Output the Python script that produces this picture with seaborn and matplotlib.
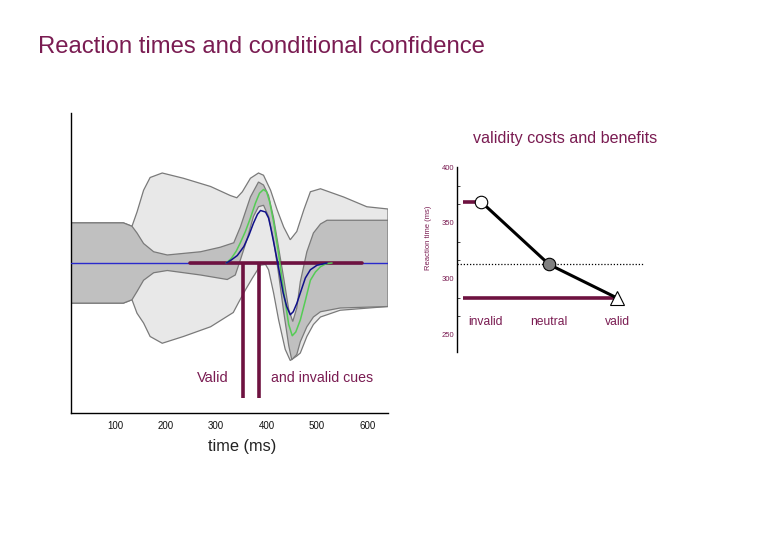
import numpy as np
import pandas as pd
import matplotlib
matplotlib.use("Agg")
import matplotlib.pyplot as plt
from matplotlib.ticker import AutoMinorLocator
import seaborn as sns

# ---------------- data ----------------
# left panel (time in ms, arbitrary amplitude units)
light_upper_t = [12, 116, 133, 143, 156, 169, 193, 235, 289, 328, 341, 352, 368, 384, 394, 408, 421, 434, 447, 460, 474, 487, 507, 553, 599, 641]
light_upper_v = [0.535, 0.535, 0.49, 0.68, 0.97, 1.14, 1.2, 1.13, 1.02, 0.9, 0.87, 0.95, 1.13, 1.2, 1.17, 0.97, 0.71, 0.48, 0.31, 0.42, 0.71, 0.95, 0.99, 0.88, 0.75, 0.72]
light_lower_t = [12, 116, 133, 143, 156, 169, 193, 235, 289, 334, 345, 358, 372, 388, 398, 404, 414, 424, 437, 447, 460, 467, 480, 493, 507, 546, 641]
light_lower_v = [-0.535, -0.535, -0.49, -0.67, -0.8, -0.98, -1.07, -0.98, -0.85, -0.66, -0.52, -0.36, -0.2, -0.03, -0.02, -0.09, -0.4, -0.76, -1.15, -1.3, -1.24, -1.2, -0.98, -0.82, -0.72, -0.63, -0.58]

dark_upper_t = [12, 116, 133, 143, 156, 176, 203, 269, 308, 335, 348, 358, 368, 384, 394, 404, 414, 424, 434, 444, 452, 460, 467, 480, 493, 507, 520, 641]
dark_upper_v = [0.535, 0.535, 0.49, 0.40, 0.26, 0.15, 0.107, 0.15, 0.21, 0.27, 0.48, 0.68, 0.88, 1.08, 1.04, 0.9, 0.6, 0.2, -0.2, -0.62, -0.78, -0.6, -0.25, 0.15, 0.4, 0.52, 0.57, 0.57]
dark_lower_t = [12, 116, 133, 143, 156, 176, 203, 269, 322, 338, 348, 361, 374, 384, 394, 404, 414, 424, 434, 444, 450, 460, 467, 480, 493, 507, 546, 641]
dark_lower_v = [-0.535, -0.535, -0.49, -0.38, -0.23, -0.13, -0.10, -0.16, -0.22, -0.16, 0.04, 0.31, 0.62, 0.75, 0.77, 0.62, 0.3, -0.15, -0.65, -1.1, -1.29, -1.22, -1.05, -0.85, -0.72, -0.65, -0.6, -0.58]

green_t = [320, 330, 340, 348, 358, 368, 378, 386, 394, 400, 406, 414, 424, 434, 444, 451, 458, 467, 477, 487, 497, 507, 518, 530]
green_v = [0, 0.06, 0.16, 0.27, 0.42, 0.6, 0.8, 0.93, 0.98, 0.95, 0.82, 0.55, 0.12, -0.38, -0.82, -0.97, -0.92, -0.76, -0.5, -0.23, -0.12, -0.05, -0.01, 0]

blue_t = [320, 330, 342, 355, 365, 374, 382, 388, 398, 404, 408, 414, 421, 427, 433, 440, 447, 453, 460, 467, 477, 487, 500, 520]
blue_v = [0, 0.04, 0.1, 0.22, 0.37, 0.53, 0.65, 0.7, 0.68, 0.6, 0.48, 0.28, 0.04, -0.18, -0.4, -0.58, -0.69, -0.65, -0.54, -0.4, -0.2, -0.09, -0.03, 0]

baseline_t = [12, 641]
baseline_v = [0, 0]

cue_bar_t = [249, 589]          # horizontal maroon bar at baseline
cue_times = [353, 386]          # vertical maroon cue markers
cue_depth = -1.8
xticks_main = [100, 200, 300, 400, 500, 600]

# right panel
conditions = ["invalid", "neutral", "valid"]
rt_values = [369, 313, 283]
yticks_rt = [250, 300, 350, 400]

MAROON = "#6e1240"
TEXTC = "#7a1c52"

# ---------------- figure ----------------
sns.set_theme(style="white")
plt.rcParams["font.family"] = ["Liberation Sans", "DejaVu Sans"]

fig = plt.figure(figsize=(7.8, 5.4), dpi=100)
fig.patch.set_facecolor("white")

ax = fig.add_axes([71/780, 1-413/540, 317/780, 300/540])
ax.set_facecolor("white")

# light envelope
lx = light_upper_t + light_lower_t[::-1]
ly = light_upper_v + light_lower_v[::-1]
ax.fill(lx, ly, facecolor="#e8e8e8", edgecolor="#7a7a7a", linewidth=0.9, zorder=1)
# dark band
dx = dark_upper_t + dark_lower_t[::-1]
dy = dark_upper_v + dark_lower_v[::-1]
ax.fill(dx, dy, facecolor="#c0c0c0", edgecolor="#7a7a7a", linewidth=0.9, zorder=2)

sns.lineplot(x=baseline_t, y=baseline_v, ax=ax, color="#2a2acc", linewidth=1.0, zorder=3)
sns.lineplot(x=cue_bar_t, y=[0, 0], ax=ax, color=MAROON, linewidth=2.6, zorder=4)
sns.lineplot(x=green_t, y=green_v, ax=ax, color="#55cc55", linewidth=1.1, zorder=5, sort=False)
sns.lineplot(x=blue_t, y=blue_v, ax=ax, color="#10108a", linewidth=1.1, zorder=6, sort=False)
for ct in cue_times:
    ax.plot([ct, ct], [0, cue_depth], color=MAROON, linewidth=2.6, solid_capstyle="butt", zorder=7)

ax.text(294, -1.53, "Valid", color=TEXTC, fontsize=10.5, ha="center", va="center")
ax.text(510, -1.53, "and invalid cues", color=TEXTC, fontsize=10.2, ha="center", va="center")

ax.set_xlim(12, 641)
ax.set_ylim(-2, 2)
ax.set_xticks(xticks_main)
ax.set_xticklabels([str(v) for v in xticks_main], fontsize=7, color="#111111")
ax.set_yticks([-1, 1])
ax.set_yticklabels([])
ax.tick_params(axis="x", direction="in", length=3, width=0.8, pad=6, colors="#111111")
ax.tick_params(axis="y", direction="out", length=3, width=0.8)
for s in ["top", "right"]:
    ax.spines[s].set_visible(False)
for s in ["left", "bottom"]:
    ax.spines[s].set_color("black")
    ax.spines[s].set_linewidth(1.0)
ax.set_xlabel("")
ax.set_ylabel("")

fig.text(242/780, 1-447/540, "time (ms)", fontsize=11.8, ha="center", va="center", color="#222222")
fig.text(38/780, 1-47/540, "Reaction times and conditional confidence", fontsize=17.2,
         ha="left", va="center", color=TEXTC)

# ---------------- inset ----------------
ax2 = fig.add_axes([457/780, 1-352/540, 188/780, 185/540])
ax2.set_facecolor("none")
xpos = [0, 1, 2]
ax2.set_xlim(-0.353, 2.41)
ax2.set_ylim(234.8, 400)

ax2.plot([-0.353, 2.41], [rt_values[1], rt_values[1]], color="black", linestyle=(0, (1, 1.5)),
         linewidth=0.9, zorder=1)
ax2.plot([-0.26, 0], [rt_values[0], rt_values[0]], color=MAROON, linewidth=2.6, zorder=2,
         solid_capstyle="butt")
ax2.plot([-0.26, 2], [rt_values[2], rt_values[2]], color=MAROON, linewidth=2.6, zorder=2,
         solid_capstyle="butt")
sns.lineplot(x=xpos, y=rt_values, ax=ax2, color="black", linewidth=2.2, zorder=3)
ax2.plot(xpos[0], rt_values[0], marker="o", markersize=9, markerfacecolor="white",
         markeredgecolor="black", markeredgewidth=0.8, zorder=4)
ax2.plot(xpos[1], rt_values[1], marker="o", markersize=9, markerfacecolor="#808080",
         markeredgecolor="black", markeredgewidth=0.8, zorder=4)
ax2.plot(xpos[2], rt_values[2], marker="^", markersize=10, markerfacecolor="white",
         markeredgecolor="black", markeredgewidth=0.8, zorder=4)

label_x = [0.07, 1.0, 2.0]
for lx_, name in zip(label_x, conditions):
    ax2.text(lx_, 261.6, name, color=TEXTC, fontsize=8.7, ha="center", va="center")

ax2.set_yticks(yticks_rt)
ax2.set_yticklabels([str(v) for v in yticks_rt], fontsize=5.5, color=TEXTC)
ax2.yaxis.set_minor_locator(AutoMinorLocator(3))
ax2.tick_params(axis="y", which="major", direction="in", length=4, width=0.8, pad=2)
ax2.tick_params(axis="y", which="minor", direction="in", length=2, width=0.6, left=True)
ax2.set_xticks([])
for s in ["top", "right", "bottom"]:
    ax2.spines[s].set_visible(False)
ax2.spines["left"].set_color("black")
ax2.spines["left"].set_linewidth(1.0)
ax2.set_xlabel("")
ax2.set_ylabel("")

fig.text(428/780, 1-238/540, "Reaction time (ms)", fontsize=5.5, rotation=90,
         ha="center", va="center", color=TEXTC)
fig.text(565.5/780, 1-138/540, "validity costs and benefits", fontsize=11.6,
         ha="center", va="center", color=TEXTC)

fig.savefig("out.png", dpi=100, facecolor="white")
